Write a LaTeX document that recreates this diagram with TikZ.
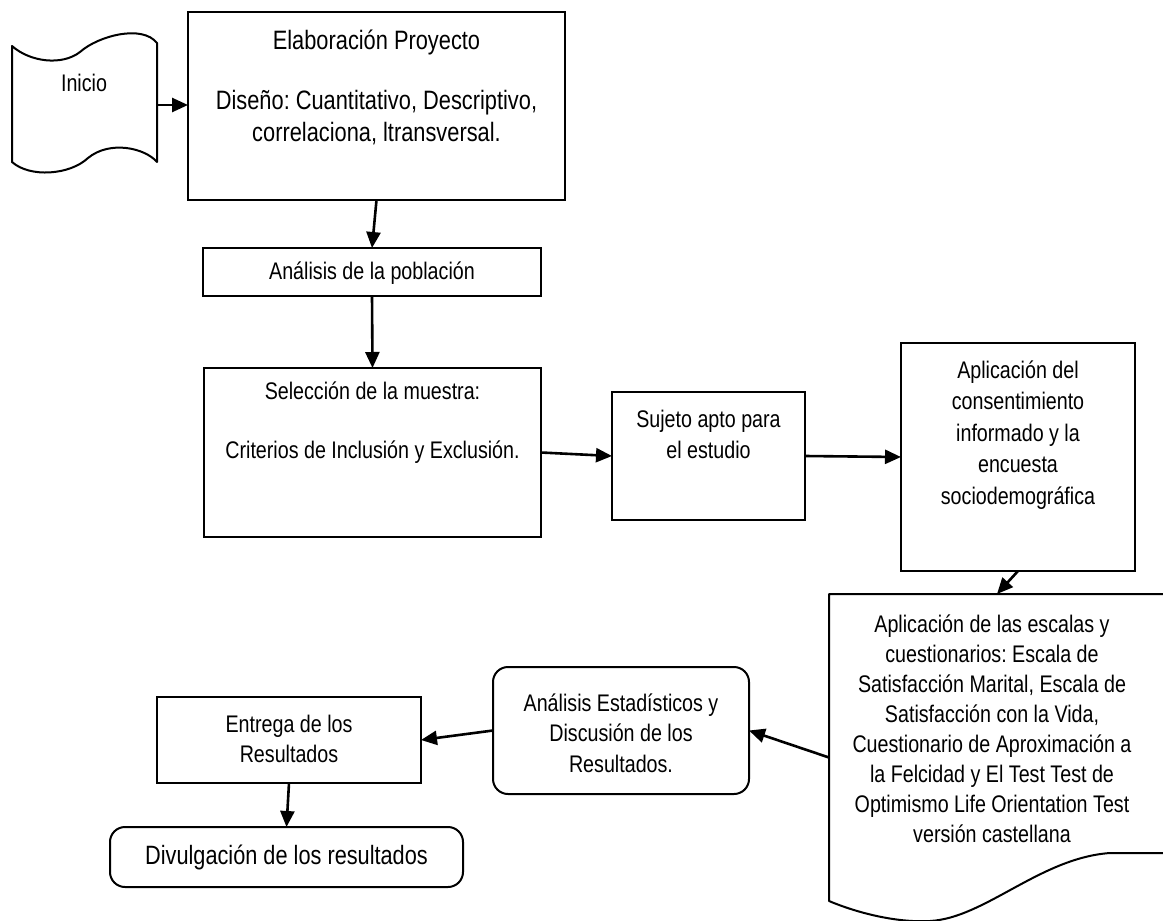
\documentclass[tikz,border=0pt]{standalone}
\usepackage{fontspec}
\setmainfont{Liberation Sans}[FakeStretch=0.82]
\usetikzlibrary{arrows.meta,calc}
\begin{document}
\frenchspacing
\begin{tikzpicture}[x=1pt,y=-1pt,
  box/.style={draw, line width=2pt, rectangle, inner sep=0pt, outer sep=0pt},
  rbox/.style={box, rounded corners=15pt},
  area/.style={rectangle, inner sep=0pt, outer sep=0pt},
  txt/.style={align=center, inner sep=0pt, font=\fontsize{24}{31}\selectfont},
  arr/.style={line width=2.6pt, -{Triangle[length=16pt,width=14pt]}},
  outline/.style={draw, line width=2pt, line join=round}]
\fill[white] (0,0) rectangle (1163,921);
\useasboundingbox (0,0) rectangle (1163,921);
\clip (0,0) rectangle (1163,921);

% Inicio (punched tape)
\draw[outline] (12,46) .. controls (30,62) and (62,66) .. (80,52)
  .. controls (98,36) and (142,24) .. (157,43) -- (157,162)
  .. controls (145,148) and (110,140) .. (88,158)
  .. controls (70,175) and (30,178) .. (12,162) -- cycle;
\node[area, minimum width=145pt, minimum height=143pt] (ini) at (84.5,103.5) {};
\node[txt] (iniT) at (84,83) {Inicio};

% Elaboracion
\node[box, minimum width=377pt, minimum height=188pt] (elab) at (376.5,106) {};
\node[txt, font=\fontsize{26.6}{32}\selectfont] (elabT) at (376.5,87)
  {Elaboración Proyecto\\[28pt]Diseño: Cuantitativo, Descriptivo,\\correlaciona, ltransversal.};

% Analisis de la poblacion
\node[box, minimum width=338pt, minimum height=48pt] (pob) at (372,272) {};
\node[txt] (pobT) at (372,273) {Análisis de la población};

% Seleccion
\node[box, minimum width=337pt, minimum height=169pt] (sel) at (372.5,452.5) {};
\node[txt, font=\fontsize{24}{32}\selectfont] (selT) at (372.5,423)
  {Selección de la muestra:\\[27pt]Criterios de Inclusión y Exclusión.};

% Sujeto
\node[box, minimum width=193pt, minimum height=128pt] (suj) at (708.5,456) {};
\node[txt] (sujT) at (708.5,434) {Sujeto apto para\\el estudio};

% Consentimiento
\node[box, minimum width=234pt, minimum height=228pt] (cons) at (1018,457) {};
\node[txt, font=\fontsize{24}{31.5}\selectfont] (consT) at (1018,435)
  {Aplicación del\\consentimiento\\informado y la\\encuesta\\sociodemográfica};

% Documento (escalas)
\draw[outline] (829,594) -- (1175,594) -- (1175,853) -- (1110,853)
  .. controls (1040,858) and (985,918) .. (930,921)
  .. controls (895,923) and (855,912) .. (829,901) -- cycle;
\node[area, minimum width=334pt, minimum height=327pt] (doc) at (996,757.5) {};
\node[txt, font=\fontsize{24}{30}\selectfont] (docT) at (992,729)
  {Aplicación de las escalas y\\cuestionarios: Escala de\\Satisfacción Marital, Escala de\\Satisfacción con la Vida,\\Cuestionario de Aproximación a\\la Felcidad y El Test Test de\\Optimismo Life Orientation Test\\versión castellana};

% Analisis estadisticos
\node[rbox, minimum width=256pt, minimum height=127pt] (est) at (621,730.5) {};
\node[txt, font=\fontsize{24}{30.5}\selectfont] (estT) at (621,733)
  {Análisis Estadísticos y\\Discusión de los\\Resultados.};

% Entrega
\node[box, minimum width=264pt, minimum height=86pt] (ent) at (289,740) {};
\node[txt, font=\fontsize{24}{30}\selectfont] (entT) at (289,739) {Entrega de los\\Resultados};

% Divulgacion
\node[rbox, minimum width=353pt, minimum height=60pt] (div) at (286.5,857) {};
\node[txt, font=\fontsize{26.5}{32}\selectfont] (divT) at (286.5,857) {Divulgación de los resultados};

% Connectors
\draw[arr] (ini.east |- 0,105) -- (elab.west |- 0,105);
\draw[arr] (elab.south) -- (pob.north);
\draw[arr] (pob.south) -- (sel.north);
\draw[arr] (sel.east) -- (suj.west);
\draw[arr] (suj.east) -- (cons.west);
\draw[arr] (cons.south) -- ($(doc.north west)+(168,0)$);
\draw[arr] (doc.west) -- (est.east);
\draw[arr] (est.west) -- (ent.east);
\draw[arr] (ent.south) -- (div.north);
\end{tikzpicture}
\end{document}
